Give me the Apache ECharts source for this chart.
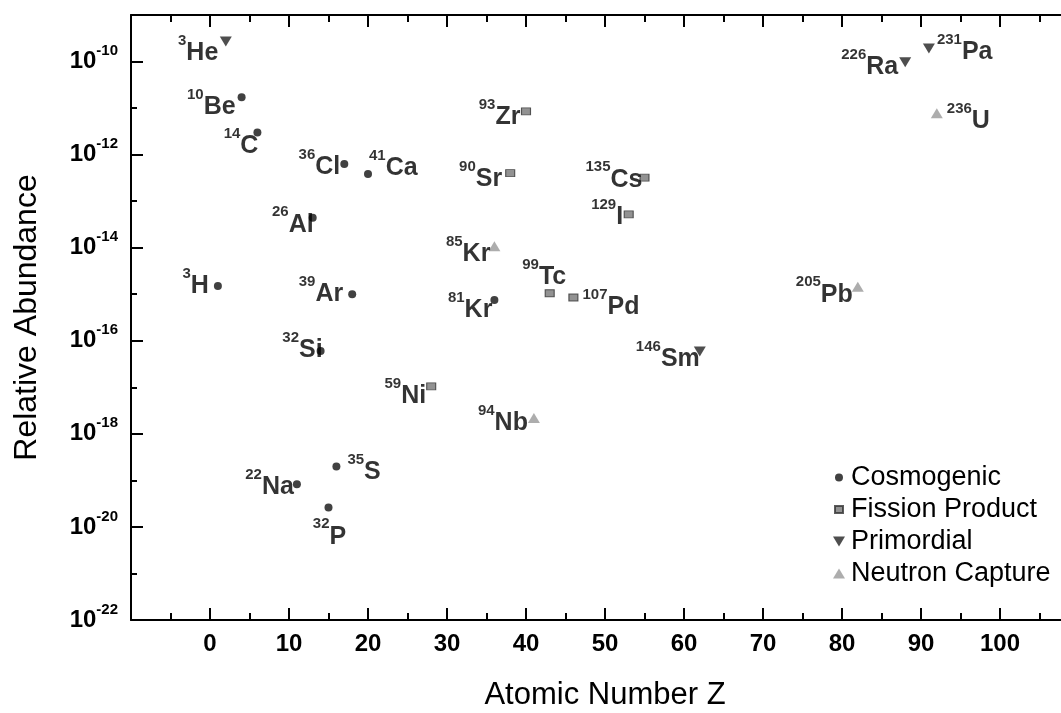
<!DOCTYPE html>
<html><head><meta charset="utf-8">
<script src="https://cdn.jsdelivr.net/npm/echarts@6/dist/echarts.min.js"></script>
<style>html,body{margin:0;padding:0;background:#fff}#c{width:1061px;height:713px}</style>
</head><body><div id="c"></div>
<script>
// ---- data ----
const cosmoMass = [3, 10, 14, 26, 36, 41, 39, 32, 81, 22, 35, 32];
const cosmoElem = ['H', 'Be', 'C', 'Al', 'Cl', 'Ca', 'Ar', 'Si', 'Kr', 'Na', 'S', 'P'];
const cosmoZ = [1, 4, 6, 13, 17, 20, 18, 14, 36, 11, 16, 15];
const cosmoAbund = [1.5e-15, 1.7e-11, 3e-12, 4.4e-14, 6.3e-13, 3.85e-13, 1.0e-15, 6e-17, 7.5e-16, 8.3e-20, 2e-19, 2.6e-20];

const fissMass = [93, 90, 135, 129, 99, 107, 59];
const fissElem = ['Zr', 'Sr', 'Cs', 'I', 'Tc', 'Pd', 'Ni'];
const fissZ = [40, 38, 55, 53, 43, 46, 28];
const fissAbund = [8.5e-12, 4e-13, 3.2e-13, 5.2e-14, 1.05e-15, 8.5e-16, 1.05e-17];

const primMass = [3, 226, 231, 146];
const primElem = ['He', 'Ra', 'Pa', 'Sm'];
const primZ = [2, 88, 91, 62];
const primAbund = [2.7e-10, 9.7e-11, 1.9e-10, 5.9e-17];

const neutMass = [85, 94, 236, 205];
const neutElem = ['Kr', 'Nb', 'U', 'Pb'];
const neutZ = [36, 41, 92, 82];
const neutAbund = [1.07e-14, 2.2e-18, 7.7e-12, 1.45e-15];

const xTicks = [0, 10, 20, 30, 40, 50, 60, 70, 80, 90, 100];
const yTickExponents = [-22, -20, -18, -16, -14, -12, -10];

// ---- label placement (layout only) ----
const cosmoLabel = [['left',0,0],['left',3,10],['left',10,14],['left',10,7],['left',5,3],['right',-8,-6],['left',0,0],['left',11,-1],['left',7,10],['left',6,3],['right',2,6],['bottom',1,0]];
const fissLabel = [['left',4.5,6],['left',2,6],['left',8,2],['left',4.5,3],['top',-5.5,13],['right',-1,10],['left',5,10]];
const primLabel = [['left',3.5,12],['left',4,5],['right',-3,3.5],['left',11,8]];
const neutLabel = [['left',7,8],['left',5,5],['right',-1,8],['left',6,8]];

const FONT = '"Liberation Sans", Arial, Helvetica, sans-serif';

function buildData(Z, A, mass, elem, lab) {
  return Z.map((z, i) => ({
    value: [z, Math.log10(A[i])],
    label: {
      show: true,
      position: lab[i][0],
      offset: [lab[i][1], lab[i][2]],
      formatter: '{s|' + mass[i] + '}{e|' + elem[i] + '}'
    }
  }));
}

const labelRich = {
  s: {fontSize: 15, fontWeight: 'bold', lineHeight: 16, verticalAlign: 'top', color: '#000', fontFamily: FONT},
  e: {fontSize: 25, fontWeight: 'bold', lineHeight: 40, color: '#000', fontFamily: FONT}
};
const baseLabel = {show: true, distance: 5, rich: labelRich, color: '#000'};

const axisBlack = {color: '#000', width: 2};

const chart = echarts.init(document.getElementById('c'), null, {renderer: 'canvas'});
chart.setOption({
  backgroundColor: '#fff',
  animation: false,
  grid: {left: 131, top: 15, width: 948, height: 605, containLabel: false, outerBoundsMode: 'none'},
  legend: {
    orient: 'vertical', left: 831, top: 464, padding: 0,
    itemWidth: 14, itemHeight: 12, itemGap: 5,
    textStyle: {fontSize: 27, color: '#000', fontFamily: FONT, lineHeight: 27},
    data: [
      {name: 'Cosmogenic', icon: 'path://M0,0M14,12M7,2A4,4,0,1,1,6.99,2Z'},
      {name: 'Fission Product', icon: 'path://M0,0M14,12M3,2.5L11,2.5L11,9.5L3,9.5Z'},
      {name: 'Primordial', icon: 'path://M0,0M14,12M1,1L13,1L7,11Z'},
      {name: 'Neutron Capture', icon: 'path://M0,0M14,12M7,1L13,11L1,11Z'}
    ]
  },
  xAxis: [{
    type: 'value', position: 'bottom', min: -10, max: 110, interval: 10,
    axisLine: {onZero: false, lineStyle: axisBlack},
    axisTick: {inside: true, length: 12, lineStyle: axisBlack},
    minorTick: {show: true, splitNumber: 2, length: 7, lineStyle: axisBlack},
    splitLine: {show: false},
    axisLabel: {
      margin: 12, fontSize: 24, fontWeight: 'bold', color: '#000', fontFamily: FONT,
      formatter: v => xTicks.indexOf(v) >= 0 ? String(v) : ''
    },
    name: 'Atomic Number Z', nameLocation: 'middle', nameGap: 60,
    nameTextStyle: {fontSize: 31, color: '#000', fontFamily: FONT}
  }, {
    type: 'value', position: 'top', min: -10, max: 110, interval: 10,
    axisLine: {onZero: false, lineStyle: axisBlack},
    axisTick: {inside: true, length: 12, lineStyle: axisBlack},
    minorTick: {show: true, splitNumber: 2, length: 7, lineStyle: axisBlack},
    splitLine: {show: false},
    axisLabel: {show: false}
  }],
  yAxis: [{
    type: 'value', position: 'left', min: -22, max: -9, interval: 2,
    axisLine: {onZero: false, lineStyle: axisBlack},
    axisTick: {inside: true, length: 12, lineStyle: axisBlack},
    minorTick: {show: true, splitNumber: 2, length: 6, lineStyle: axisBlack},
    splitLine: {show: false},
    axisLabel: {
      margin: 13, color: '#000',
      formatter: v => yTickExponents.indexOf(v) >= 0 ? '{b|10}{s|' + v + '}' : '',
      rich: {
        b: {fontSize: 24, fontWeight: 'bold', lineHeight: 36, color: '#000', fontFamily: FONT},
        s: {fontSize: 15, fontWeight: 'bold', lineHeight: 14, verticalAlign: 'top', color: '#000', fontFamily: FONT}
      }
    },
    name: 'Relative Abundance', nameLocation: 'middle', nameGap: 88,
    nameTextStyle: {fontSize: 32, color: '#000', fontFamily: FONT}
  }],
  series: [{
    name: 'Cosmogenic', type: 'scatter', symbol: 'circle', symbolSize: 8,
    itemStyle: {color: '#111'}, label: baseLabel,
    data: buildData(cosmoZ, cosmoAbund, cosmoMass, cosmoElem, cosmoLabel)
  }, {
    name: 'Fission Product', type: 'scatter', symbol: 'rect', symbolSize: [9, 7],
    itemStyle: {color: '#777', borderColor: '#333', borderWidth: 1}, label: baseLabel,
    data: buildData(fissZ, fissAbund, fissMass, fissElem, fissLabel)
  }, {
    name: 'Primordial', type: 'scatter', symbol: 'triangle', symbolRotate: 180, symbolSize: [12, 10],
    itemStyle: {color: '#222'}, label: baseLabel,
    data: buildData(primZ, primAbund, primMass, primElem, primLabel)
  }, {
    name: 'Neutron Capture', type: 'scatter', symbol: 'triangle', symbolSize: [12, 10],
    itemStyle: {color: '#999'}, label: baseLabel,
    data: buildData(neutZ, neutAbund, neutMass, neutElem, neutLabel)
  }]
});
</script>
</body></html>
